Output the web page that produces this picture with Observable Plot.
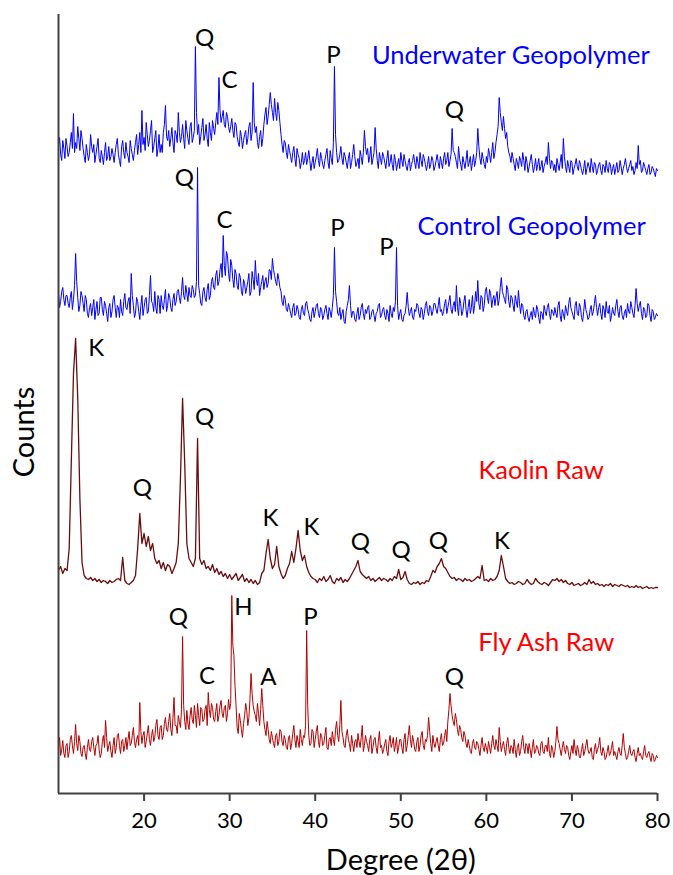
<!DOCTYPE html>
<html><head><meta charset="utf-8">
<script src="https://cdn.jsdelivr.net/npm/d3@7"></script>
<script src="https://cdn.jsdelivr.net/npm/@observablehq/plot@0.6"></script>
<style>
body{margin:0;background:#fff;}
#chart svg{display:block;}
</style></head><body><div id="chart"></div>
<script>
// XRD patterns. Coarse readings every 0.25° from 10° to 80°;
// "Mid" readings are the values read at the points halfway between (x.125, x.375, ...).
const xStart = 10, xEnd = 80, xStep = 0.25;
const seriesNames = ["Underwater Geopolymer", "Control Geopolymer", "Kaolin Raw", "Fly Ash Raw"];
const seriesOffsets = [611, 468, 205, 28];
const lineColors = ["#0000ff", "#0000ff", "#6b0c0c", "#b30000"];
const lineWidths = [1, 1, 1.3, 1];
const labelColors = ["#0000ff", "#0000ff", "#ff0000", "#ff0000"];
const seriesLabelX = [62.86, 65.3, 66.4, 67.0];
const seriesLabelY = [127, 99, 118, 123];
const xTicks = [20, 30, 40, 50, 60, 70, 80];

const underwater = [
37,28,42,24, 36,30,50,69, 40,56,32,44, 26,38,22,48, 30,20,36,24,
32,18,40,26, 22,34,20,38, 28,16,42,24, 30,20,34,22, 40,28,50,72,
45,60,36,52, 30,44,26,48, 38,50,77,42, 36,55,30,48, 70,40,58,34,
52,38,60,45, 136,48,38,55, 42,58,36,50, 62,48,70,105, 60,72,55,66,
50,64,45,58, 40,52,34,48, 38,56,42,100, 50,40,46,36, 58,75,66,90,
70,84,62,72, 48,30,40,24, 32,20,36,16, 28,14,30,22, 18,32,12,26,
20,34,16,24, 14,28,20,32, 18,116,30,22, 36,18,26,14, 30,20,38,16,
24,32,18,52, 28,20,36,24, 55,22,30,18, 26,14,32,20, 18,28,12,24,
30,16,22,12, 24,18,28,14, 20,30,16,24, 12,26,18,22, 16,28,14,20,
24,18,30,22, 54,30,20,36, 18,26,14,32, 20,12,28,22, 54,24,30,18,
26,34,20,40, 30,48,85,60, 66,44,36,26, 30,18,24,14, 22,30,12,20,
16,28,10,24, 18,12,22,16, 26,40,14,20, 18,24,12,28, 44,16,22,10,
20,14,24,12, 18,8,22,14, 16,24,10,18, 12,20,8,16, 22,10,18,14,
8,20,12,16, 14,24,10,18, 12,8,20,37, 22,12,16,8, 18,10,14,6,
12];
const underwaterMid = [
45,22,34,44, 26,40,34,30, 34,44,52,34, 20,30,28,36, 38,28,44,20,
26,30,22,36, 26,28,30,44, 22,36,30,40, 26,42,28,32, 48,38,30,38,
32,48,42,62, 36,52,34,30, 30,58,46,52, 44,40,52,40, 50,46,44,62,
44,56,40,52, 70,58,46,64, 48,44,60,42, 54,60,58,72, 66,58,70,56,
56,52,60,46, 36,46,42,52, 44,60,50,60, 56,34,52,44, 68,58,78,78,
62,70,80,60, 38,42,30,38, 26,30,24,34, 24,20,18,30, 24,22,20,14,
26,22,30,18, 22,34,14,24, 40,48,20,28, 24,30,20,24, 14,28,26,20,
14,26,30,36, 34,26,18,30, 34,14,24,30, 20,24,16,28, 12,22,18,14,
22,28,16,20, 12,22,20,26, 14,22,28,18, 18,14,26,12, 22,20,26,14,
30,22,16,28, 32,26,14,24, 12,20,22,16, 26,20,16,30, 36,18,24,14,
20,28,30,24, 40,56,70,52, 54,50,30,20, 24,12,20,26, 16,22,26,10,
22,18,16,12, 24,16,10,20, 18,24,22,12, 10,18,20,14, 26,10,16,22,
8,18,16,22, 12,14,8,20, 10,16,20,8, 18,12,18,10, 14,20,8,18,
14,10,22,8, 18,16,14,22, 16,12,14,18, 10,20,12,14, 8,16,10,14];

const control = [
32,24,38,20, 30,18,34,26, 72,28,20,30, 14,26,8,22, 18,6,24,12,
28,10,20,4, 22,14,30,8, 18,26,10,32, 16,28,52,20, 12,24,6,30,
18,28,14,50, 22,34,12,26, 30,16,36,20, 28,14,32,24, 36,22,48,26,
32,38,28,36, 30,158,32,20, 38,24,42,30, 48,36,55,44, 62,90,50,70,
44,60,38,52, 36,48,30,42, 38,52,34,46, 65,40,30,44, 36,48,42,55,
67,50,40,46, 34,20,26,14, 18,8,22,12, 16,6,20,10, 24,12,4,18,
14,22,8,16, 10,20,6,14, 18,78,24,10, 6,16,2,20, 40,8,14,4,
18,10,22,6, 12,20,8,16, 4,14,22,10, 18,6,12,20, 8,14,78,6,
16,4,12,33, 10,18,6,14, 20,8,16,12, 24,10,18,14, 22,12,28,16,
14,26,18,30, 12,24,40,10, 22,14,30,8, 26,18,12,34, 45,16,28,20,
38,22,32,26, 20,34,26,48, 30,22,36,18, 28,14,24,35, 12,20,6,16,
4,14,18,8, 16,2,12,20, 10,22,6,14, 18,8,24,4, 12,20,10,28,
14,6,24,10, 18,4,26,12, 8,20,14,30, 10,22,6,16, 24,12,4,18,
10,26,8,20, 6,16,22,12, 18,8,37,14, 24,6,16,10, 20,4,14,8,
10];
const controlMid = [
18,34,26,30, 22,28,16,40, 44,14,34,22, 30,12,18,10, 26,16,10,28,
16,24,12,18, 8,26,18,20, 8,14,24,18, 24,12,30,8, 28,14,20,10,
26,12,30,24, 14,18,30,12, 20,26,14,32, 18,26,20,34, 28,34,30,40,
24,30,40,28, 44,40,22,34, 28,36,26,44, 38,50,40,56, 48,60,74,52,
66,46,56,40, 52,34,46,32, 44,30,54,36, 46,52,38,50, 44,38,56,46,
56,44,52,38, 24,30,16,22, 12,18,10,20, 8,16,12,22, 16,6,14,8,
20,12,18,6, 16,12,18,8, 30,34,12,18, 12,4,14,26, 20,14,6,12,
6,18,12,16, 18,6,14,10, 12,20,8,16, 10,16,4,12, 18,24,20,12,
6,10,20,18, 14,8,16,22, 12,18,6,20, 14,20,10,22, 16,20,14,10,
22,12,24,16, 20,14,18,28, 10,24,16,18, 12,30,20,24, 22,30,14,34,
28,36,18,30, 28,20,38,34, 26,40,24,30, 20,30,18,22, 22,10,14,8,
10,6,12,20, 8,14,6,14, 18,12,16,10, 12,20,10,16, 6,14,22,18,
10,20,12,22, 8,14,16,6, 16,10,22,18, 18,12,20,8, 14,20,10,12,
20,14,18,10, 12,8,14,24, 12,20,22,20, 12,18,8,22, 10,16,6,12];

const kaolin = [
18,22,15,20, 18,40,128,215, 250,190,90,26, 13,10,9,11, 8,10,7,9,
6,8,7,5, 8,6,7,9, 10,8,31,8, 5,4,6,8, 13,40,75,45,
55,42,52,38, 45,30,25,28, 20,26,18,24, 22,15,20,26, 45,110,190,125,
45,30,26,22, 30,150,30,24, 28,20,22,18, 24,16,20,14, 17,12,15,10,
14,9,12,15, 8,11,14,7, 10,6,9,5, 8,4,6,15, 18,35,49,30,
20,24,42,22, 15,10,13,20, 25,37,26,40, 58,38,28,33, 22,16,12,10,
9,6,10,8, 12,7,9,13, 7,5,10,8, 11,6,9,7, 10,14,18,22,
28,17,14,12, 10,12,8,10, 7,9,11,8, 10,9,7,10, 8,12,10,19,
9,11,17,9, 5,4,6,5, 7,4,6,5, 8,7,12,18, 16,22,25,30,
22,20,16,12, 10,11,8,10, 9,7,10,8, 9,7,8,10, 12,10,23,8,
9,7,10,8, 9,12,18,33, 22,10,7,5, 6,4,5,7, 6,4,5,9,
6,4,5,10, 7,5,4,6, 5,3,6,9, 8,10,7,9, 6,8,5,4,
6,3,4,5, 3,4,6,4, 9,5,7,4, 5,3,4,2, 4,3,5,2,
4,3,2,4, 3,2,3,1, 2,1,3,1, 2,0,1,2, 0,1,0,1,
1];

const flyAsh = [
18,10,25,8, 22,14,30,12, 41,15,24,9, 20,6,26,14, 28,10,22,16,
12,30,45,14, 24,8,28,18, 32,12,26,20, 16,34,22,38, 18,30,63,22,
34,24,40,20, 36,28,46,26, 40,30,48,34, 52,30,68,40, 50,38,129,44,
55,36,58,42, 50,62,40,56, 46,60,73,48, 58,44,62,50, 65,48,60,52,
56,170,110,60, 32,45,28,50, 55,48,92,60, 50,62,40,77, 44,30,36,22,
28,18,32,24, 34,20,26,16, 30,22,40,18, 24,36,20,28, 135,30,22,34,
26,40,18,30, 22,38,16,28, 34,20,44,24, 65,28,18,36, 22,30,14,26,
32,18,40,20, 24,14,30,18, 28,12,34,20, 16,26,10,30, 22,14,28,18,
26,12,32,20, 40,18,24,14, 28,20,34,16, 24,48,22,30, 18,28,14,32,
22,36,44,72, 50,40,46,30, 36,24,30,18, 20,12,26,16, 22,10,28,14,
18,24,12,30, 16,20,38,14, 24,10,28,12, 18,26,8,22, 14,30,12,20,
22,8,26,14, 18,10,24,12, 20,28,8,16, 14,39,22,10, 24,12,18,6,
20,26,10,16, 8,22,14,26, 12,18,6,22, 16,28,10,14, 8,20,12,24,
14,6,18,10, 32,12,8,20, 10,16,4,18, 12,6,20,8, 14,4,10,6,
8];
const flyAshMid = [
28,16,12,20, 8,26,20,24, 22,30,12,18, 12,18,16,24, 18,20,30,8,
24,18,28,20, 14,20,12,30, 20,24,14,28, 26,20,30,24, 26,20,34,30,
18,32,26,30, 24,40,30,38, 26,42,36,44, 36,48,40,32, 44,56,60,36,
42,50,46,60, 38,50,58,44, 56,40,56,62, 46,54,44,60, 52,58,44,66,
62,120,80,38, 52,36,42,62, 40,66,72,54, 44,52,56,60, 36,44,26,34,
22,30,20,36, 24,30,18,28, 16,32,26,30, 18,26,30,40, 60,20,36,18,
34,24,32,20, 30,18,26,20, 26,36,30,40, 34,20,30,26, 14,22,24,18,
24,28,14,30, 20,26,12,26, 18,24,18,12, 22,14,24,18, 28,20,12,26,
18,26,14,30, 26,30,16,24, 14,30,20,26, 30,34,14,22, 24,20,26,20,
30,24,56,60, 44,52,36,40, 28,34,22,26, 14,22,18,24, 16,20,18,22,
12,18,22,20, 26,14,24,20, 16,22,18,20, 12,16,18,10, 24,18,22,12,
16,18,12,20, 12,22,14,20, 14,12,20,8, 24,26,16,18, 16,20,10,14,
12,16,20,8, 16,10,20,16, 14,8,16,12, 20,14,18,6, 14,10,18,10,
10,14,12,20, 18,6,14,12, 14,8,12,10, 8,14,10,12, 8,12,4,10];

// Peak annotations: letter, series index, 2θ position, height above that series' baseline
const peakLetters = ["Q","C","P","Q",  "Q","C","P","P",  "K","Q","Q","K","K","Q","Q","Q","K",  "Q","C","H","A","P","Q"];
const peakSeries  = [0,0,0,0,  1,1,1,1,  2,2,2,2,2,2,2,2,2,  3,3,3,3,3,3];
const peakX = [27.06,29.98,42.13,56.26,  24.72,29.39,42.6,48.32,  14.4,19.81,27.06,34.77,39.56,45.28,50.03,54.39,61.83,  24.02,27.37,31.61,34.53,39.44,56.26];
const peakY = [144,102,127,72,  147,105,97,78,  240,100,171,70,61,46,38,47,47,  148,89,158,88,148,88];

function merge(coarse, mid) {
  if (!mid) return coarse.map((v, i) => ({x: xStart + i * xStep, v}));
  return coarse.flatMap((v, i) => {
    const pts = [{x: xStart + i * xStep, v}];
    if (i < mid.length) pts.push({x: xStart + (i + 0.5) * xStep, v: mid[i]});
    return pts;
  });
}
const allSeries = [merge(underwater, underwaterMid), merge(control, controlMid), merge(kaolin), merge(flyAsh, flyAshMid)];
const peakData = peakLetters.map((t, i) => ({t, x: peakX[i], y: seriesOffsets[peakSeries[i]] + peakY[i]}));
const nameData = seriesNames.map((t, i) => ({t, x: seriesLabelX[i], y: seriesOffsets[i] + seriesLabelY[i], c: labelColors[i]}));

const axisColor = "#404040";
const chart = Plot.plot({
  width: 673, height: 875,
  marginTop: 14, marginBottom: 82, marginLeft: 58, marginRight: 16,
  style: {fontFamily: "Lato, 'Open Sans', sans-serif", background: "#fff"},
  x: {domain: [xStart, xEnd]},
  y: {domain: [0, 779], axis: null},
  marks: [
    ...allSeries.map((pts, s) => Plot.line(pts, {x: "x", y: d => seriesOffsets[s] + d.v, stroke: lineColors[s], strokeWidth: lineWidths[s]})),
    Plot.ruleX([xStart], {stroke: axisColor, strokeWidth: 2}),
    Plot.ruleY([0], {stroke: axisColor, strokeWidth: 2}),
    Plot.axisX({ticks: xTicks, tickSize: 8, tickPadding: 11, fontSize: 22, label: null, stroke: axisColor, strokeWidth: 2, fill: "#000"}),
    Plot.text(["Degree (2θ)"], {x: 50, frameAnchor: "bottom", lineAnchor: "middle", dy: 67, fontSize: 29, fill: "#000"}),
    Plot.text(["Counts"], {frameAnchor: "left", textAnchor: "middle", rotate: -90, dx: -34, dy: 28, fontSize: 29, fill: "#000"}),
    Plot.text(peakData, {x: "x", y: "y", text: "t", fontSize: 24, fill: "#000"}),
    Plot.text(nameData, {x: "x", y: "y", text: "t", fill: "c", fontSize: 25.5})
  ]
});
document.getElementById("chart").append(chart);
</script></body></html>
